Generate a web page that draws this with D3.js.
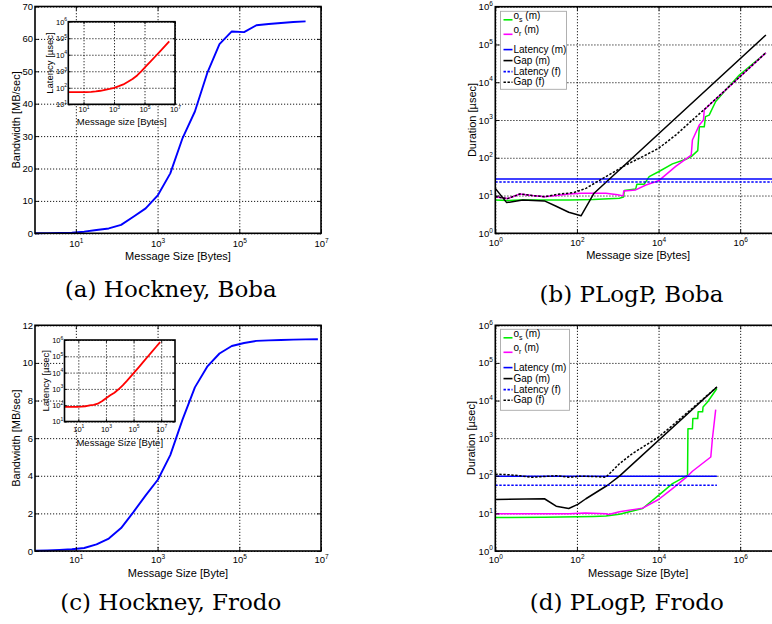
<!DOCTYPE html>
<html>
<head>
<meta charset="utf-8">
<script src="https://cdn.jsdelivr.net/npm/d3@7"></script>
<style>
  body { margin: 0; background: #fff; }
  svg text { font-family: "Liberation Sans", Arial, sans-serif; fill: #000; }
  svg text.caption { font-family: "DejaVu Serif", serif; }
</style>
</head>
<body>
<svg id="fig" width="772" height="624"></svg>
<script>
// ---- Hockney model: bandwidth (main) and latency (inset) ----
const bobaSizes = [1, 2, 4, 8, 16, 32, 64, 128, 256, 512, 1024, 2048, 4096, 8192, 16384, 32768, 65536, 131072, 262144, 524288, 1048576, 2097152, 4194304];
const bobaBandwidth = [0.03, 0.06, 0.12, 0.2, 0.5, 1.0, 1.5, 2.6, 5.1, 7.7, 11.8, 18.5, 29.4, 37.6, 49.4, 58.4, 62.3, 62.1, 64.2, 64.6, 64.9, 65.2, 65.4];
const bobaLatency = [55, 55, 55, 55, 55, 56, 60, 66, 75, 85, 100, 125, 160, 230, 340, 560, 1050, 2110, 4080, 8100, 16200, 32200, 64100];

const frodoSizes = [1, 2, 4, 8, 16, 32, 64, 128, 256, 512, 1024, 2048, 4096, 8192, 16384, 32768, 65536, 131072, 262144, 524288, 1048576, 2097152, 4194304, 8388608];
const frodoBandwidth = [0.01, 0.03, 0.06, 0.09, 0.16, 0.35, 0.66, 1.22, 2.07, 2.96, 3.8, 5.1, 7.0, 8.7, 9.8, 10.5, 10.9, 11.06, 11.17, 11.2, 11.22, 11.24, 11.25, 11.26];
const frodoLatency = [80, 80, 80, 80, 82, 86, 97, 105, 124, 173, 269, 402, 585, 942, 1670, 3120, 6010, 11850, 23470, 46800, 93500, 186600, 372800, 745000];

// ---- PLogP, Boba (durations in usec) ----
const bOsSize = [1, 2, 4, 16, 64, 251, 1100, 1380, 1450, 2750, 2950, 4470, 5890, 10000, 21900, 46800, 63100, 91200, 100000, 131800, 141000, 173800, 251200, 446700, 955000, 4266000];
const bOsDur = [7.6, 7.4, 7.6, 7.6, 7.6, 7.8, 8.5, 9.1, 13.5, 14.8, 20, 20, 31.6, 42.7, 69, 91, 107, 155, 661, 661, 1230, 1350, 3090, 6310, 15500, 60300];
const bOrSize = [1, 2, 4, 8, 16, 32, 64, 128, 512, 1000, 1350, 1410, 2750, 4900, 10000, 26300, 63100, 67600, 100000, 126000, 131800, 4266000];
const bOrDur = [9.3, 8.3, 11, 10, 9.3, 10, 11, 11.5, 11.5, 10.5, 9.8, 13.2, 14.1, 19, 24.5, 59, 117, 295, 741, 1000, 1860, 60300];
const bGapMSize = [1, 1.9, 4.7, 16, 31, 63, 126, 263, 4266000];
const bGapMDur = [15.5, 6.5, 7.6, 7.2, 5.2, 3.6, 2.9, 11.5, 178000];
const bGapFSize = [1, 2, 4, 8, 16, 32, 85, 166, 512, 1580, 4070, 10000, 26300, 67600, 131800, 4266000];
const bGapFDur = [9.3, 8.3, 11, 10, 9.3, 10.7, 12, 15.5, 31.6, 64.6, 107, 178, 398, 1000, 1900, 60300];
const bLatency = { m: 27.5, f: 22.9, end: 8388608 };

// ---- PLogP, Frodo ----
const dOsSize = [1, 16, 256, 512, 1100, 2290, 4070, 10000, 21900, 51300, 52500, 67600, 69200, 91200, 93300, 120000, 123000, 158500, 269000];
const dOsDur = [7.8, 7.9, 8.3, 8.5, 9.5, 11.5, 13.5, 30.2, 61.7, 102, 1780, 1780, 3310, 3310, 5010, 5010, 6760, 9120, 20900];
const dOrSize = [1, 16, 64, 160, 512, 600, 1100, 4070, 10000, 21900, 46800, 67600, 190500, 208900, 251200];
const dOrDur = [9.8, 9.8, 9.8, 10.2, 9.8, 9.3, 11, 13.8, 23.4, 45.7, 89, 132, 316, 977, 5750];
const dGapMSize = [1, 16, 31, 63, 105, 166, 562, 1100, 269000];
const dGapMDur = [23.4, 24.5, 15.5, 13.5, 17.4, 24.5, 56, 97.7, 22900];
const dGapFSize = [1, 2, 4, 8, 16, 32, 64, 128, 256, 512, 1100, 2290, 10000, 20000, 269000];
const dGapFDur = [110, 107, 100, 91, 95.5, 100, 91, 97.7, 95.5, 91, 209, 389, 1070, 2000, 22900];
const dLatency = { m: 97.7, f: 56, end: 269000 };

const legendItems = [
  { name: 'o', sub: 's', rest: ' (m)', color: '#00ee00', dash: null },
  { name: 'o', sub: 'r', rest: ' (m)', color: '#ff00ff', dash: null },
  { name: 'Latency (m)', color: '#0000ff', dash: null },
  { name: 'Gap (m)', color: '#000', dash: null },
  { name: 'Latency (f)', color: '#0000ff', dash: '2.4,1.6' },
  { name: 'Gap (f)', color: '#000', dash: '2.4,1.6' }
];

const svg = d3.select('#fig');

function powLabels(sel, fs, es) {
  sel.selectAll('.tick text').each(function (d) {
    const t = d3.select(this).text(null);
    t.append('tspan').text('10');
    t.append('tspan').attr('font-size', es).attr('dy', -fs * 0.45).text(Math.round(Math.log10(d)));
  });
}

function setupPanel(o) {
  const g = svg.append('g');
  const x = (o.xLog ? d3.scaleLog() : d3.scaleLinear()).domain(o.xDomain).range([o.left, o.right]);
  const y = (o.yLog ? d3.scaleLog() : d3.scaleLinear()).domain(o.yDomain).range([o.bottom, o.top]);
  const w = o.right - o.left, h = o.bottom - o.top;
  g.append('rect').attr('x', o.left).attr('y', o.top).attr('width', w).attr('height', h).attr('fill', '#fff');
  const gridStyle = s => {
    s.select('.domain').remove();
    s.selectAll('line').attr('stroke', '#b8b8b8').attr('stroke-width', 0.8).attr('stroke-dasharray', '1.2,1.8');
  };
  g.append('g').attr('transform', `translate(0,${o.bottom})`)
    .call(d3.axisBottom(x).tickValues(o.xTicks).tickSize(-h).tickFormat(''))
    .call(gridStyle);
  g.append('g').attr('transform', `translate(${o.left},0)`)
    .call(d3.axisLeft(y).tickValues(o.yTicks).tickSize(-w).tickFormat(''))
    .call(gridStyle);
  return { g, x, y, o };
}

function finishPanel(p) {
  const { g, x, y, o } = p;
  const w = o.right - o.left, h = o.bottom - o.top;
  const tk = o.tick;
  const clean = s => { s.select('.domain').remove(); s.attr('font-family', null).attr('font-size', o.fs); };
  const bx = g.append('g').attr('transform', `translate(0,${o.bottom})`)
    .call(d3.axisBottom(x).tickValues(o.xTicks).tickSizeInner(-tk).tickSizeOuter(0).tickPadding(o.xPad).tickFormat(d => d))
    .call(clean);
  const ly = g.append('g').attr('transform', `translate(${o.left},0)`)
    .call(d3.axisLeft(y).tickValues(o.yTicks).tickSizeInner(-tk).tickSizeOuter(0).tickPadding(o.yPad).tickFormat(d => d))
    .call(clean);
  if (o.xLog) powLabels(bx, o.fs, o.es);
  if (o.yLog) powLabels(ly, o.fs, o.es);
  g.append('g').attr('transform', `translate(0,${o.top})`)
    .call(d3.axisTop(x).tickValues(o.xTicks).tickSize(-tk).tickFormat(''))
    .call(clean);
  g.append('g').attr('transform', `translate(${o.right},0)`)
    .call(d3.axisRight(y).tickValues(o.yTicks).tickSize(-tk).tickFormat(''))
    .call(clean);
  g.selectAll('.tick line').attr('stroke', '#000').attr('stroke-width', 0.9);
  g.append('rect').attr('x', o.left).attr('y', o.top).attr('width', w).attr('height', h)
    .attr('fill', 'none').attr('stroke', '#000').attr('stroke-width', o.frameW);
  g.append('text').attr('x', (o.left + o.right) / 2).attr('y', o.xLabelY).attr('text-anchor', 'middle')
    .attr('font-size', o.labelFs).text(o.xLabel);
  g.append('text').attr('transform', `translate(${o.yLabelX},${(o.top + o.bottom) / 2}) rotate(-90)`)
    .attr('text-anchor', 'middle').attr('font-size', o.labelFs).text(o.yLabel);
}

function plotLine(p, xs, ys, color, width, dash) {
  p.g.append('path').datum(d3.zip(xs, ys))
    .attr('fill', 'none').attr('stroke', color).attr('stroke-width', width)
    .attr('stroke-linejoin', 'round')
    .attr('stroke-dasharray', dash || null)
    .attr('d', d3.line().x(d => p.x(d[0])).y(d => p.y(d[1])));
}

function drawLegend(p, left, top, width, height) {
  const g = p.g.append('g');
  g.append('rect').attr('x', left).attr('y', top).attr('width', width).attr('height', height)
    .attr('fill', '#fff').attr('stroke', '#a8a8a8').attr('stroke-width', 0.9);
  const lineY = [8.5, 23, 38.3, 49.3, 60.3, 71];
  const textY = [7.3, 22, 41.3, 52.3, 63.3, 74];
  legendItems.forEach((it, i) => {
    g.append('line').attr('x1', left + 3).attr('x2', left + 12)
      .attr('y1', top + lineY[i]).attr('y2', top + lineY[i])
      .attr('stroke', it.color).attr('stroke-width', 1.6).attr('stroke-dasharray', it.dash);
    const t = g.append('text').attr('x', left + 13).attr('y', top + textY[i]).attr('font-size', 10);
    if (it.sub) {
      t.append('tspan').text(it.name);
      t.append('tspan').attr('font-size', 7).attr('dy', 3).text(it.sub);
      t.append('tspan').attr('dy', -3).text(it.rest);
    } else {
      t.text(it.name);
    }
  });
}

function caption(text, cx, baseline) {
  svg.append('text').attr('class', 'caption').attr('x', cx).attr('y', baseline)
    .attr('text-anchor', 'middle').attr('font-size', 23).text(text);
}

const decades = [1, 10, 100, 1e3, 1e4, 1e5, 1e6];
const oddDecades = [10, 1e3, 1e5, 1e7];
const evenDecades = [1, 100, 1e4, 1e6];

// ---------- (a) Hockney, Boba ----------
const pa = setupPanel({
  left: 35, right: 321, top: 6.5, bottom: 233.3,
  xLog: true, xDomain: [1, 1e7], xTicks: oddDecades,
  yLog: false, yDomain: [0, 70], yTicks: [0, 10, 20, 30, 40, 50, 60, 70]
});
plotLine(pa, bobaSizes, bobaBandwidth, '#0000ff', 1.9);
Object.assign(pa.o, { tick: 4, fs: 9.5, es: 6.5, xPad: 7.2, yPad: 2, frameW: 1.6, labelFs: 11,
  xLabel: 'Message Size [Bytes]', xLabelY: 259.5, yLabel: 'Bandwidth [MB/sec]', yLabelX: 20 });
finishPanel(pa);

const pai = setupPanel({
  left: 68.3, right: 175, top: 21.7, bottom: 104.3,
  xLog: true, xDomain: [1, 1e7], xTicks: oddDecades,
  yLog: true, yDomain: [10, 1e6], yTicks: [10, 100, 1e3, 1e4, 1e5, 1e6]
});
plotLine(pai, bobaSizes, bobaLatency, '#ff0000', 1.8);
Object.assign(pai.o, { tick: 2.5, fs: 7.5, es: 5, xPad: 2.5, yPad: 1.2, frameW: 1.6, labelFs: 9.5,
  xLabel: 'Message size [Bytes]', xLabelY: 125, yLabel: 'Latency [\u00b5sec]', yLabelX: 53 });
finishPanel(pai);

// ---------- (c) Hockney, Frodo ----------
const pc = setupPanel({
  left: 35, right: 321, top: 325.3, bottom: 551,
  xLog: true, xDomain: [1, 1e7], xTicks: oddDecades,
  yLog: false, yDomain: [0, 12], yTicks: [0, 2, 4, 6, 8, 10, 12]
});
plotLine(pc, frodoSizes, frodoBandwidth, '#0000ff', 1.9);
Object.assign(pc.o, { tick: 4, fs: 9.5, es: 6.5, xPad: 5.6, yPad: 2, frameW: 1.6, labelFs: 11,
  xLabel: 'Message Size [Byte]', xLabelY: 576.5, yLabel: 'Bandwidth [MB/sec]', yLabelX: 20 });
finishPanel(pc);

const pci = setupPanel({
  left: 64.5, right: 175, top: 340, bottom: 421.5,
  xLog: true, xDomain: [1, 1e8], xTicks: oddDecades,
  yLog: true, yDomain: [10, 1e6], yTicks: [10, 100, 1e3, 1e4, 1e5, 1e6]
});
plotLine(pci, frodoSizes, frodoLatency, '#ff0000', 1.8);
Object.assign(pci.o, { tick: 2.5, fs: 7.5, es: 5, xPad: 5, yPad: 1.2, frameW: 1.6, labelFs: 9.5,
  xLabel: 'Message Size [Byte]', xLabelY: 446, yLabel: 'Latency [\u00b5sec]', yLabelX: 48.5 });
finishPanel(pci);

// ---------- (b) PLogP, Boba ----------
const pb = setupPanel({
  left: 495.3, right: 781, top: 6.7, bottom: 233.3,
  xLog: true, xDomain: [1, 1e7], xTicks: evenDecades,
  yLog: true, yDomain: [1, 1e6], yTicks: decades
});
plotLine(pb, bOsSize, bOsDur, legendItems[0].color, 1.5);
plotLine(pb, bOrSize, bOrDur, legendItems[1].color, 1.5);
plotLine(pb, [1, bLatency.end], [bLatency.m, bLatency.m], '#0000ff', 1.5);
plotLine(pb, bGapMSize, bGapMDur, '#000', 1.5);
plotLine(pb, [1, bLatency.end], [bLatency.f, bLatency.f], '#0000ff', 1.5, '2.4,1.6');
plotLine(pb, bGapFSize, bGapFDur, '#000', 1.5, '2.4,1.6');
Object.assign(pb.o, { tick: 4, fs: 9.5, es: 6.5, xPad: 6.3, yPad: 2.5, frameW: 1.6, labelFs: 11,
  xLabel: 'Message size [Bytes]', xLabelY: 258.5, yLabel: 'Duration [\u00b5sec]', yLabelX: 476 });
finishPanel(pb);
drawLegend(pb, 500.5, 11.3, 66, 78);

// ---------- (d) PLogP, Frodo ----------
const pd = setupPanel({
  left: 495.3, right: 781, top: 325.3, bottom: 551,
  xLog: true, xDomain: [1, 1e7], xTicks: evenDecades,
  yLog: true, yDomain: [1, 1e6], yTicks: decades
});
plotLine(pd, dOsSize, dOsDur, legendItems[0].color, 1.5);
plotLine(pd, dOrSize, dOrDur, legendItems[1].color, 1.5);
plotLine(pd, [1, dLatency.end], [dLatency.m, dLatency.m], '#0000ff', 1.5);
plotLine(pd, dGapMSize, dGapMDur, '#000', 1.5);
plotLine(pd, [1, dLatency.end], [dLatency.f, dLatency.f], '#0000ff', 1.5, '2.4,1.6');
plotLine(pd, dGapFSize, dGapFDur, '#000', 1.5, '2.4,1.6');
Object.assign(pd.o, { tick: 4, fs: 9.5, es: 6.5, xPad: 5.2, yPad: 2.5, frameW: 1.6, labelFs: 11,
  xLabel: 'Message Size [Byte]', xLabelY: 576.5, yLabel: 'Duration [\u00b5sec]', yLabelX: 475 });
finishPanel(pd);
drawLegend(pd, 500.5, 329.3, 69, 81);

// ---------- captions ----------
caption('(a) Hockney, Boba', 170.8, 297);
caption('(b) PLogP, Boba', 631.5, 302);
caption('(c) Hockney, Frodo', 170.8, 610);
caption('(d) PLogP, Frodo', 626.8, 610);
</script>
</body>
</html>
